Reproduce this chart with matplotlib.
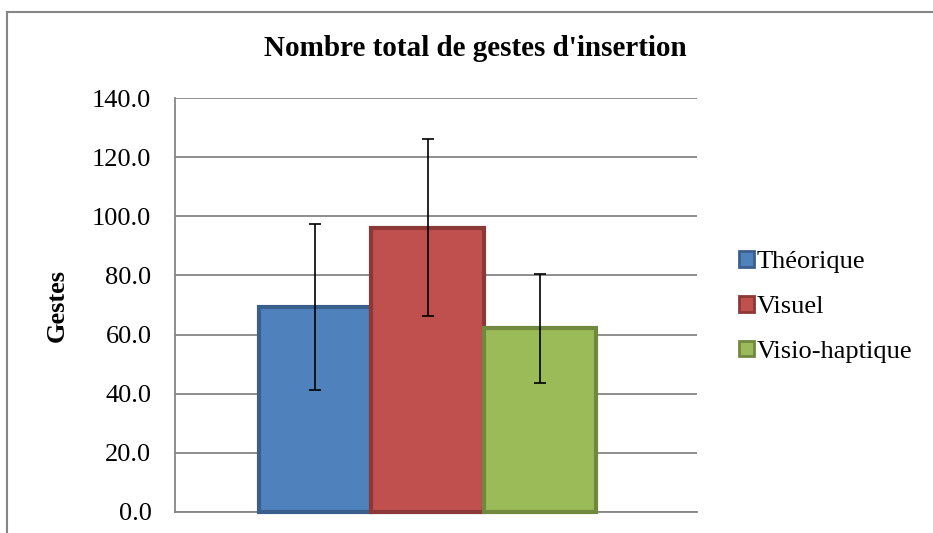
import matplotlib
matplotlib.use("Agg")
import matplotlib.pyplot as plt
from matplotlib.patches import Patch
from matplotlib.lines import Line2D

categories = ["Théorique", "Visuel", "Visio-haptique"]
values = [69.3, 96.1, 62.1]
errors = [28.1, 29.9, 18.4]
fill_colors = ["#4F81BD", "#C0504D", "#9BBB59"]
edge_colors = ["#3A5F8C", "#8C3836", "#71893F"]
yticks = [0, 20, 40, 60, 80, 100, 120, 140]
title = "Nombre total de gestes d'insertion"
ylabel = "Gestes"

plt.rcParams['font.family'] = ['Liberation Serif', 'DejaVu Serif']

fig = plt.figure(figsize=(9.33, 5.33), dpi=100)
ax = fig.add_axes([175/933, 21/533, 522/933, 414/533])

xs = list(range(len(categories)))
for x, v, e, fc, ec in zip(xs, values, errors, fill_colors, edge_colors):
    ax.bar(x, v, width=1.0, color=fc, edgecolor=ec, linewidth=3.0,
           zorder=3, clip_on=False)
ax.errorbar(xs, values, yerr=errors, fmt='none', ecolor='black',
            elinewidth=1.2, capsize=4.5, capthick=1.2, zorder=4)

ax.set_xlim(-1.247, 3.398)
ax.set_ylim(0, 140)
ax.set_yticks(yticks)
ax.set_yticklabels([f"{t:.1f}" for t in yticks], fontsize=19)
ax.tick_params(axis='y', length=0, pad=17)
ax.set_xticks([])
ax.yaxis.grid(True, color='#868686', linewidth=1.3, zorder=0)
ax.set_axisbelow(True)
for s in ['top', 'right']:
    ax.spines[s].set_visible(False)
for s in ['left', 'bottom']:
    ax.spines[s].set_color('#868686')
    ax.spines[s].set_linewidth(1.3)

fig.text(57.5/933, 1 - 305/533, ylabel, rotation=90, ha='center', va='center',
         fontsize=19, fontweight='bold')
fig.text(475/933, 1 - 48/533, title, ha='center', va='center',
         fontsize=21, fontweight='bold')

handles = [Patch(facecolor=fc, edgecolor=ec, linewidth=2.0)
           for fc, ec in zip(fill_colors, edge_colors)]
fig.legend(handles, categories, loc='center left',
           bbox_to_anchor=(726/933, 1 - 307/533), frameon=False,
           fontsize=19, handlelength=0.55, handleheight=0.55,
           handletextpad=0.12, labelspacing=0.85, borderpad=0)

# outer chart border (partially cropped)
fig.add_artist(Line2D([7.5/933, 7.5/933], [0, 1 - 12/533],
                      transform=fig.transFigure, color='#868686', linewidth=1.5))
fig.add_artist(Line2D([7.5/933, 1], [1 - 12/533, 1 - 12/533],
                      transform=fig.transFigure, color='#868686', linewidth=1.5))

fig.savefig("out.png", dpi=100)
